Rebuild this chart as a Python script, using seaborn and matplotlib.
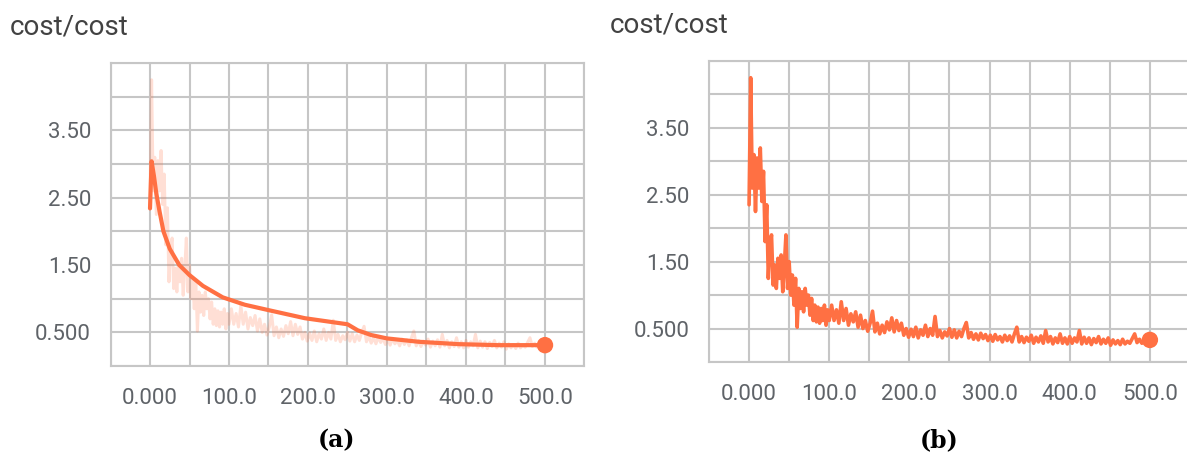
import numpy as np
import pandas as pd
import matplotlib
matplotlib.use('Agg')
import matplotlib.pyplot as plt
import seaborn as sns
from matplotlib.ticker import MultipleLocator, FuncFormatter

sns.set_theme(style='white')
plt.rcParams['font.family'] = ['Roboto', 'DejaVu Sans']

# ---------------- data ----------------
raw_steps = np.concatenate([np.arange(0, 101, 2), np.arange(103, 500, 3), [500]])
raw_cost = [
    # 0..100 step 2
    2.35, 4.25, 2.60, 3.10, 2.25, 3.05, 2.60, 3.20, 2.40, 2.85,
    1.80, 2.35, 1.25, 1.75, 1.90, 1.15, 1.45, 1.10, 1.55, 1.25,
    1.60, 1.05, 1.45, 1.90, 1.10, 1.50, 1.00, 1.30, 0.85, 1.25,
    0.52, 1.10, 0.80, 1.05, 0.75, 1.10, 0.85, 1.00, 0.70, 0.95,
    0.62, 0.85, 0.60, 0.82, 0.58, 0.80, 0.62, 0.85, 0.55, 0.78,
    0.62,
    # 103..499 step 3
    0.85, 0.62, 0.78, 0.58, 0.90, 0.62, 0.80, 0.55, 0.72, 0.60,
    0.75, 0.52, 0.70, 0.50, 0.62, 0.46, 0.58, 0.76, 0.45, 0.58,
    0.42, 0.55, 0.44, 0.60, 0.48, 0.66, 0.45, 0.62, 0.47, 0.58,
    0.40, 0.50, 0.37, 0.49, 0.38, 0.52, 0.36, 0.48, 0.40, 0.55,
    0.38, 0.50, 0.40, 0.68, 0.38, 0.47, 0.36, 0.45, 0.39, 0.50,
    0.37, 0.48, 0.36, 0.46, 0.38, 0.50, 0.59, 0.36, 0.44, 0.34,
    0.42, 0.33, 0.43, 0.35, 0.41, 0.32, 0.40, 0.31, 0.41, 0.33,
    0.38, 0.30, 0.40, 0.32, 0.39, 0.30, 0.42, 0.52, 0.30, 0.38,
    0.29, 0.37, 0.31, 0.40, 0.28, 0.37, 0.30, 0.39, 0.28, 0.47,
    0.30, 0.38, 0.27, 0.36, 0.29, 0.42, 0.28, 0.36, 0.27, 0.38,
    0.28, 0.36, 0.30, 0.47, 0.27, 0.37, 0.28, 0.36, 0.26, 0.35,
    0.29, 0.38, 0.27, 0.34, 0.28, 0.36, 0.25, 0.33, 0.27, 0.32,
    0.26, 0.34, 0.27, 0.31, 0.28, 0.35, 0.42, 0.29, 0.34, 0.28,
    0.33, 0.30, 0.34,
    # 500
    0.33,
]

smooth_steps = [0, 2, 5, 8, 12, 17, 25, 37, 50, 67, 92, 120, 150, 196,
                235, 250, 263, 280, 300, 340, 390, 440, 500]
smooth_cost = [2.34, 3.04, 2.82, 2.56, 2.30, 2.00, 1.74, 1.50, 1.35, 1.19,
               1.02, 0.91, 0.83, 0.71, 0.645, 0.62, 0.53, 0.46, 0.41, 0.36,
               0.325, 0.31, 0.31]

panel_titles = ['cost/cost', 'cost/cost']
captions = ['(a)', '(b)']
x_tick_labels = {0: '0.000', 100: '100.0', 200: '200.0', 300: '300.0',
                 400: '400.0', 500: '500.0'}
y_tick_labels = {3.5: '3.50', 2.5: '2.50', 1.5: '1.50', 0.5: '0.500'}

# ---------------- style ----------------
ORANGE = '#FF7043'
GRID = '#c6c6c6'
TICKC = '#5f6368'

fig = plt.figure(figsize=(11.87, 4.53), dpi=100)
ax_a = fig.add_axes([0.0931, 0.192, 0.3993, 0.669])
ax_b = fig.add_axes([0.5973, 0.2009, 0.4052, 0.6645])


def xfmt(v, pos):
    return x_tick_labels.get(int(round(v)), '') if abs(v - round(v)) < 1e-6 else ''


def yfmt(v, pos):
    for k, s in y_tick_labels.items():
        if abs(v - k) < 1e-6:
            return s
    return ''


def style(ax):
    ax.set_xlim(-50, 550)
    ax.set_ylim(0, 4.5)
    ax.xaxis.set_major_locator(MultipleLocator(50))
    ax.yaxis.set_major_locator(MultipleLocator(0.5))
    ax.xaxis.set_major_formatter(FuncFormatter(xfmt))
    ax.yaxis.set_major_formatter(FuncFormatter(yfmt))
    ax.grid(True, color=GRID, lw=1.5)
    ax.set_axisbelow(True)
    for sp in ax.spines.values():
        sp.set_visible(True)
        sp.set_color(GRID)
        sp.set_linewidth(1.5)
    ax.tick_params(axis='both', length=7, width=1.5, color=GRID,
                   labelcolor=TICKC, labelsize=16)
    ax.tick_params(axis='x', pad=9)
    ax.tick_params(axis='y', pad=7)
    ax.set_xlabel('')
    ax.set_ylabel('')
    ax.set_facecolor('white')


# panel (a): faint raw + smoothed
sns.lineplot(x=raw_steps, y=raw_cost, ax=ax_a, color=ORANGE, alpha=0.22,
             lw=2.2, estimator=None, sort=False)
sns.lineplot(x=smooth_steps, y=smooth_cost, ax=ax_a, color=ORANGE,
             lw=3.0, estimator=None, sort=False)
sns.scatterplot(x=[smooth_steps[-1]], y=[smooth_cost[-1]], ax=ax_a,
                color=ORANGE, s=140, edgecolor='none', zorder=5)

# panel (b): raw
sns.lineplot(x=raw_steps, y=raw_cost, ax=ax_b, color=ORANGE,
             lw=2.6, estimator=None, sort=False)
sns.scatterplot(x=[raw_steps[-1]], y=[raw_cost[-1]], ax=ax_b,
                color=ORANGE, s=140, edgecolor='none', zorder=5)

style(ax_a)
style(ax_b)

fig.text(10 / 1187, 1 - 34 / 453, panel_titles[0], fontsize=20,
         color='#424242', va='baseline', ha='left')
fig.text(610 / 1187, 1 - 32 / 453, panel_titles[1], fontsize=20,
         color='#424242', va='baseline', ha='left')

fig.text(336 / 1187, 1 - 440 / 453, captions[0], fontsize=17,
         fontweight='bold', family='DejaVu Serif', ha='center', va='center',
         color='black')
fig.text(939 / 1187, 1 - 440 / 453, captions[1], fontsize=17,
         fontweight='bold', family='DejaVu Serif', ha='center', va='center',
         color='black')

fig.savefig('out.png', dpi=100, facecolor='white')
